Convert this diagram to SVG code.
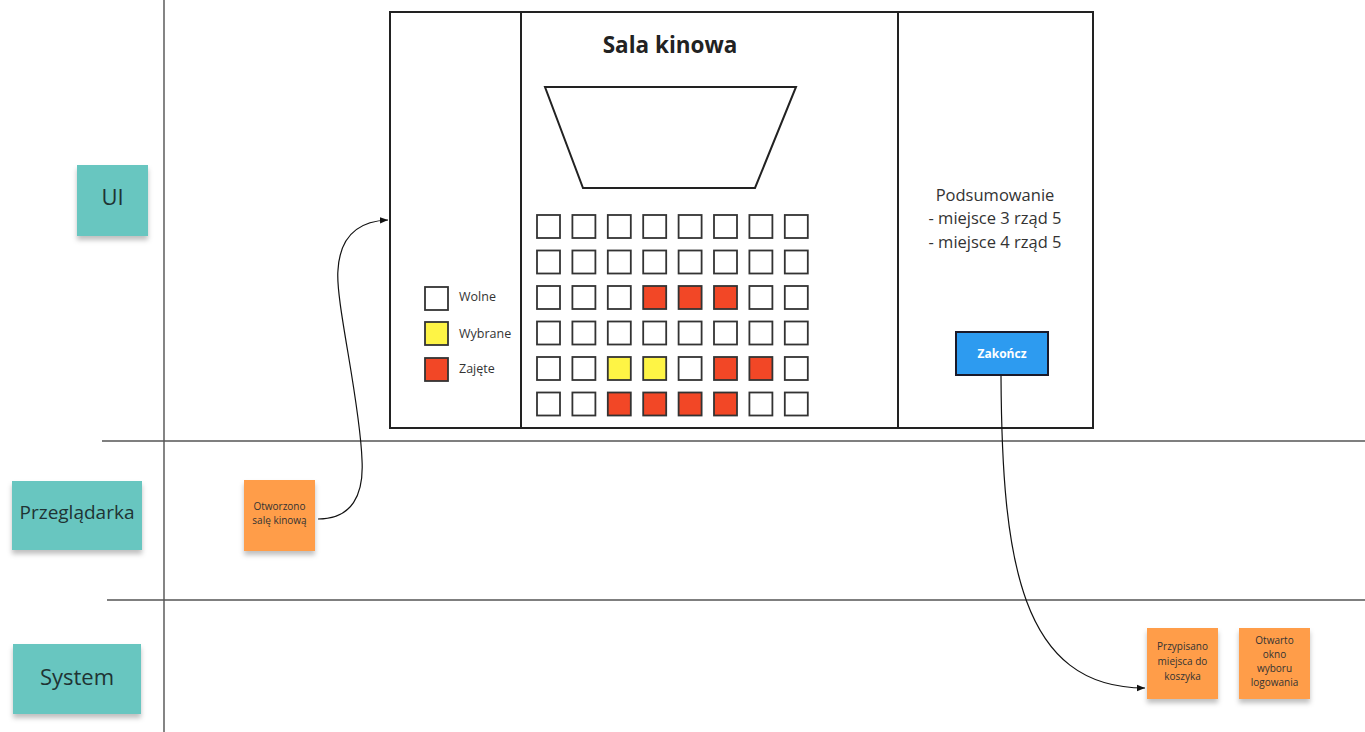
<svg xmlns="http://www.w3.org/2000/svg" width="1365" height="732" viewBox="0 0 1365 732">
<style>
.seat{stroke:#333;stroke-width:1.8}
.w{fill:#fff}.y{fill:#fef445}.r{fill:#f24726}
.lane{fill:#67c6c0}
.ev{fill:#ff9d48}
.lt{font-family:"Open Sans","Liberation Sans",sans-serif;fill:#1f3333;text-anchor:middle}
.et{font-family:"Open Sans","Liberation Sans",sans-serif;font-size:10px;fill:#333;text-anchor:middle}
.lg{font-family:"Open Sans","Liberation Sans",sans-serif;font-size:12.5px;fill:#333}
.conn{fill:none;stroke:#111;stroke-width:1.2}
</style>
<defs>
<filter id="sh" x="-20%" y="-20%" width="140%" height="150%">
<feDropShadow dx="0" dy="4" stdDeviation="2.5" flood-color="#000" flood-opacity="0.25"/>
</filter>
<marker id="ah" viewBox="0 0 10 10" refX="10" refY="5" markerWidth="8" markerHeight="8" orient="auto" markerUnits="userSpaceOnUse">
<path d="M0,1 L10,5 L0,9 z" fill="#111"/>
</marker>
</defs>
<rect width="1365" height="732" fill="#fff"/>
<g id="lanes-lines" stroke-linecap="butt">
<line x1="164" y1="0" x2="164" y2="732" stroke="#333" stroke-width="1.2"/>
<line x1="102" y1="441" x2="1365" y2="441" stroke="#555" stroke-width="1.5"/>
<line x1="107" y1="600" x2="1365" y2="600" stroke="#555" stroke-width="1.5"/>
</g>
<g id="lane-ui"><rect class="lane" x="77" y="165" width="71" height="71" filter="url(#sh)"/>
<text class="lt" x="112.5" y="205" font-size="22">UI</text></g>
<g id="lane-przegladarka"><rect class="lane" x="12" y="481" width="130" height="69" filter="url(#sh)"/>
<text class="lt" x="77" y="519" font-size="19">Przeglądarka</text></g>
<g id="lane-system"><rect class="lane" x="13" y="644" width="128" height="70" filter="url(#sh)"/>
<text class="lt" x="77" y="685" font-size="22">System</text></g>
<g id="screen">
<rect x="390" y="12" width="703" height="416" fill="#fff" stroke="#222" stroke-width="2"/>
<line x1="521" y1="12" x2="521" y2="428" stroke="#222" stroke-width="2"/>
<line x1="898" y1="12" x2="898" y2="428" stroke="#222" stroke-width="2"/>
<text x="670" y="53" font-family="'Open Sans','Liberation Sans',sans-serif" font-size="22.5" font-weight="bold" fill="#222" text-anchor="middle">Sala kinowa</text>
<polygon points="545,87 796,87 755,188 583,188" fill="#fff" stroke="#222" stroke-width="2"/>
</g>
<g id="legend">
<rect class="seat w" x="425" y="287" width="23" height="23"/>
<rect class="seat y" x="425" y="322" width="23" height="23"/>
<rect class="seat r" x="425" y="358" width="23" height="23"/>
<text class="lg" x="459" y="301">Wolne</text>
<text class="lg" x="459" y="338">Wybrane</text>
<text class="lg" x="459" y="373">Zajęte</text>
</g>
<g id="seats">
<g transform="translate(537,215)">
<rect class="seat w" x="0" y="0" width="23" height="23"/><rect class="seat w" x="35.4" y="0" width="23" height="23"/><rect class="seat w" x="70.8" y="0" width="23" height="23"/><rect class="seat w" x="106.2" y="0" width="23" height="23"/><rect class="seat w" x="141.6" y="0" width="23" height="23"/><rect class="seat w" x="177" y="0" width="23" height="23"/><rect class="seat w" x="212.4" y="0" width="23" height="23"/><rect class="seat w" x="247.8" y="0" width="23" height="23"/>
<rect class="seat w" x="0" y="35.5" width="23" height="23"/><rect class="seat w" x="35.4" y="35.5" width="23" height="23"/><rect class="seat w" x="70.8" y="35.5" width="23" height="23"/><rect class="seat w" x="106.2" y="35.5" width="23" height="23"/><rect class="seat w" x="141.6" y="35.5" width="23" height="23"/><rect class="seat w" x="177" y="35.5" width="23" height="23"/><rect class="seat w" x="212.4" y="35.5" width="23" height="23"/><rect class="seat w" x="247.8" y="35.5" width="23" height="23"/>
<rect class="seat w" x="0" y="71" width="23" height="23"/><rect class="seat w" x="35.4" y="71" width="23" height="23"/><rect class="seat w" x="70.8" y="71" width="23" height="23"/><rect class="seat r" x="106.2" y="71" width="23" height="23"/><rect class="seat r" x="141.6" y="71" width="23" height="23"/><rect class="seat r" x="177" y="71" width="23" height="23"/><rect class="seat w" x="212.4" y="71" width="23" height="23"/><rect class="seat w" x="247.8" y="71" width="23" height="23"/>
<rect class="seat w" x="0" y="106.5" width="23" height="23"/><rect class="seat w" x="35.4" y="106.5" width="23" height="23"/><rect class="seat w" x="70.8" y="106.5" width="23" height="23"/><rect class="seat w" x="106.2" y="106.5" width="23" height="23"/><rect class="seat w" x="141.6" y="106.5" width="23" height="23"/><rect class="seat w" x="177" y="106.5" width="23" height="23"/><rect class="seat w" x="212.4" y="106.5" width="23" height="23"/><rect class="seat w" x="247.8" y="106.5" width="23" height="23"/>
<rect class="seat w" x="0" y="142" width="23" height="23"/><rect class="seat w" x="35.4" y="142" width="23" height="23"/><rect class="seat y" x="70.8" y="142" width="23" height="23"/><rect class="seat y" x="106.2" y="142" width="23" height="23"/><rect class="seat w" x="141.6" y="142" width="23" height="23"/><rect class="seat r" x="177" y="142" width="23" height="23"/><rect class="seat r" x="212.4" y="142" width="23" height="23"/><rect class="seat w" x="247.8" y="142" width="23" height="23"/>
<rect class="seat w" x="0" y="177.5" width="23" height="23"/><rect class="seat w" x="35.4" y="177.5" width="23" height="23"/><rect class="seat r" x="70.8" y="177.5" width="23" height="23"/><rect class="seat r" x="106.2" y="177.5" width="23" height="23"/><rect class="seat r" x="141.6" y="177.5" width="23" height="23"/><rect class="seat r" x="177" y="177.5" width="23" height="23"/><rect class="seat w" x="212.4" y="177.5" width="23" height="23"/><rect class="seat w" x="247.8" y="177.5" width="23" height="23"/>
</g>
</g>
<g id="summary" font-family="'Open Sans','Liberation Sans',sans-serif" font-size="16.5" fill="#333" text-anchor="middle">
<text x="995" y="201">Podsumowanie</text>
<text x="995" y="224">- miejsce 3 rząd 5</text>
<text x="995" y="248">- miejsce 4 rząd 5</text>
</g>
<g id="btn-zakoncz">
<rect x="956" y="332" width="92" height="43" fill="#2d9bf0" stroke="#1a1a2a" stroke-width="2"/>
<text x="1002" y="358" font-family="'Open Sans','Liberation Sans',sans-serif" font-size="12" font-weight="bold" fill="#fff" text-anchor="middle">Zakończ</text>
</g>
<g id="ev-otworzono">
<rect class="ev" x="244" y="480" width="71" height="71" filter="url(#sh)"/>
<text class="et" x="279.5" y="510">Otworzono</text>
<text class="et" x="279.5" y="524">salę kinową</text>
</g>
<g id="ev-przypisano">
<rect class="ev" x="1147" y="628" width="71" height="71" filter="url(#sh)"/>
<text class="et" x="1182.5" y="650">Przypisano</text>
<text class="et" x="1182.5" y="665">miejsca do</text>
<text class="et" x="1182.5" y="680">koszyka</text>
</g>
<g id="ev-otwarto">
<rect class="ev" x="1239" y="628" width="71" height="71" filter="url(#sh)"/>
<text class="et" x="1274.5" y="644">Otwarto</text>
<text class="et" x="1274.5" y="658">okno</text>
<text class="et" x="1274.5" y="672">wyboru</text>
<text class="et" x="1274.5" y="686">logowania</text>
</g>
<g id="connectors">
<path class="conn" d="M 318 519 C 352 519, 364 495, 362 460 C 360 400, 335 300, 338 270 C 340 235, 360 221, 388 220" marker-end="url(#ah)"/>
<path class="conn" d="M 1001 376 C 1002 560, 1020 688, 1145 688" marker-end="url(#ah)"/>
</g>
</svg>
